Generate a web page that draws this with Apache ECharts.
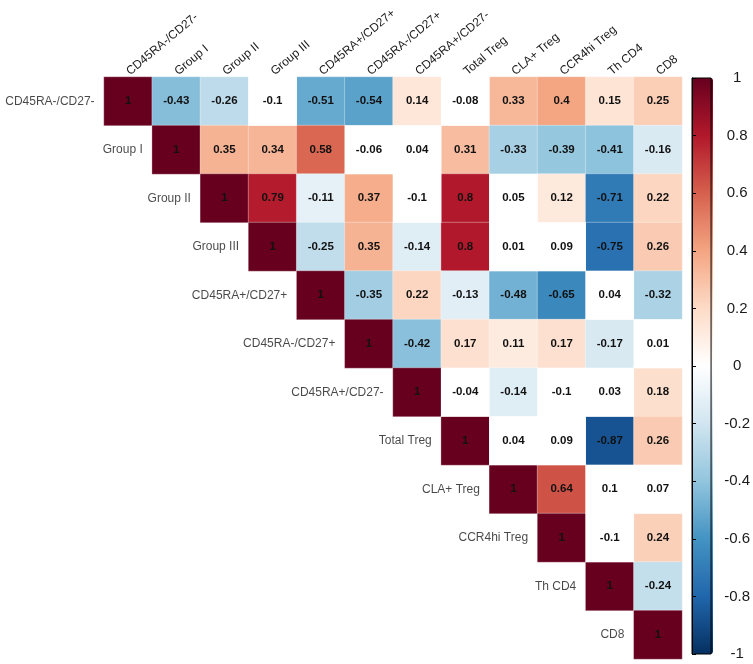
<!DOCTYPE html>
<html>
<head>
<meta charset="utf-8">
<script src="https://cdn.jsdelivr.net/npm/echarts@6/dist/echarts.min.js"></script>
<style>html,body{margin:0;padding:0;background:#fff;}#c{width:753px;height:664px;}</style>
</head>
<body>
<div id="c"></div>
<script>
const names = ['CD45RA-/CD27-','Group I','Group II','Group III','CD45RA+/CD27+','CD45RA-/CD27+','CD45RA+/CD27-','Total Treg','CLA+ Treg','CCR4hi Treg','Th CD4','CD8'];
// upper-triangle rows (starting at the diagonal)
const row0  = [1, -0.43, -0.26, -0.1, -0.51, -0.54, 0.14, -0.08, 0.33, 0.4, 0.15, 0.25];
const row1  = [1, 0.35, 0.34, 0.58, -0.06, 0.04, 0.31, -0.33, -0.39, -0.41, -0.16];
const row2  = [1, 0.79, -0.11, 0.37, -0.1, 0.8, 0.05, 0.12, -0.71, 0.22];
const row3  = [1, -0.25, 0.35, -0.14, 0.8, 0.01, 0.09, -0.75, 0.26];
const row4  = [1, -0.35, 0.22, -0.13, -0.48, -0.65, 0.04, -0.32];
const row5  = [1, -0.42, 0.17, 0.11, 0.17, -0.17, 0.01];
const row6  = [1, -0.04, -0.14, -0.1, 0.03, 0.18];
const row7  = [1, 0.04, 0.09, -0.87, 0.26];
const row8  = [1, 0.64, 0.1, 0.07];
const row9  = [1, -0.1, 0.24];
const row10 = [1, -0.24];
const row11 = [1];
const rows = [row0,row1,row2,row3,row4,row5,row6,row7,row8,row9,row10,row11];
const colorbarTicks = [-1,-0.8,-0.6,-0.4,-0.2,0,0.2,0.4,0.6,0.8,1];
const blankCutoff = 0.1; // cells with |r| <= cutoff are left white

const palette = ['#053061','#2166AC','#4393C3','#92C5DE','#D1E5F0','#FFFFFF','#FDDBC7','#F4A582','#D6604D','#B2182B','#67001F'];

const colored = [], blank = [];
rows.forEach((r, i) => {
  r.forEach((v, k) => {
    const j = i + k;
    (Math.abs(v) > blankCutoff ? colored : blank).push([j, i, v]);
  });
});
const diag = names.map((n, i) => ({ value: [i, i], name: n }));

const FONT = 'Liberation Sans, Arial, sans-serif';
const cellLabel = {
  show: true,
  formatter: p => String(p.value[2]),
  fontFamily: FONT, fontSize: 11.5, fontWeight: 'bold', color: '#111'
};

const chart = echarts.init(document.getElementById('c'), null, { renderer: 'canvas' });
chart.setOption({
  animation: false,
  backgroundColor: '#fff',
  grid: [
    { left: 104, top: 77, width: 578, height: 582 },
    { left: 692, top: 78, width: 21, height: 576, show: true, borderColor: '#000', borderWidth: 1, z: 10 }
  ],
  xAxis: [
    {
      type: 'category', data: names, position: 'top', gridIndex: 0,
      axisLine: { show: false }, axisTick: { show: false }, splitLine: { show: false },
      axisLabel: { interval: 0, rotate: -40, margin: 4, fontFamily: FONT, fontSize: 12, color: '#1a1a1a' }
    },
    { type: 'value', gridIndex: 1, show: false, min: 0, max: 1 }
  ],
  yAxis: [
    {
      type: 'category', data: names, inverse: true, gridIndex: 0,
      axisLine: { show: false }, axisTick: { show: false }, axisLabel: { show: false }, splitLine: { show: false }
    },
    {
      type: 'value', gridIndex: 1, position: 'right', min: -1, max: 1, interval: 0.2, z: 10,
      axisLine: { show: true, lineStyle: { color: '#000', width: 1 } },
      axisTick: { show: true, length: 4, lineStyle: { color: '#000' } },
      splitLine: { show: false },
      axisLabel: {
        margin: 26, align: 'center', fontFamily: FONT, fontSize: 15, color: '#1a1a1a',
        formatter: v => String(Math.round(v * 10) / 10),
        customValues: colorbarTicks
      }
    }
  ],
  visualMap: {
    type: 'continuous', min: -1, max: 1, seriesIndex: 0, dimension: 2,
    calculable: false, hoverLink: false, padding: 0,
    left: 692, top: 78, itemWidth: 21, itemHeight: 576,
    inRange: { color: palette }
  },
  series: [
    {
      type: 'heatmap', data: colored, label: cellLabel,
      itemStyle: { borderColor: 'rgba(255,255,255,0.5)', borderWidth: 0.6 },
      emphasis: { disabled: true }
    },
    {
      type: 'heatmap', data: blank, label: cellLabel,
      itemStyle: { color: '#FFFFFF' },
      emphasis: { disabled: true }
    },
    {
      type: 'scatter', data: diag, symbolSize: 1, itemStyle: { color: 'rgba(0,0,0,0)' },
      label: {
        show: true, position: 'left', distance: 33, formatter: p => p.name,
        fontFamily: FONT, fontSize: 12, color: '#1a1a1a'
      },
      emphasis: { disabled: true }, silent: true, z: 5
    }
  ]
});
</script>
</body>
</html>
